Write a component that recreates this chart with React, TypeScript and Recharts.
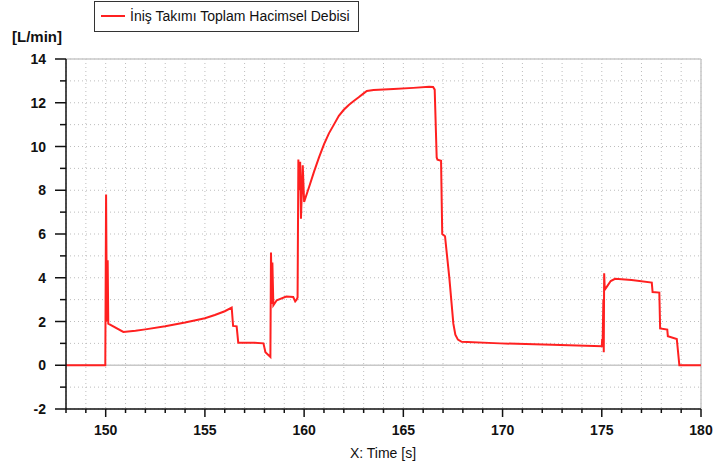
import React from "react";
import {
  LineChart,
  Line,
  XAxis,
  YAxis,
  CartesianGrid,
  ReferenceLine,
} from "recharts";

const seriesName = "İniş Takımı Toplam Hacimsel Debisi";

const time: number[] = [
  148, 149.98, 150.02, 150.06, 150.1, 150.13, 150.89, 151.5, 152, 153, 154, 155, 155.5, 156, 156.35,
  156.42, 156.6, 156.68, 157.5, 157.95, 158.05, 158.3, 158.33, 158.38, 158.4, 158.45, 158.62, 159.1,
  159.45, 159.55, 159.62, 159.67, 159.71, 159.76, 159.8, 159.84, 159.93, 160.0, 160.25, 160.5, 160.75,
  161.0, 161.25, 161.5, 161.75, 162.0, 162.25, 162.5, 162.75, 163.0, 163.16, 163.5, 164.5, 165.5,
  166.3, 166.5, 166.58, 166.68, 166.72, 166.9, 166.96, 167.1, 167.32, 167.52, 167.62, 167.75, 167.94,
  169.87, 172.5, 175.0, 175.02, 175.04, 175.08, 175.1, 175.12, 175.15, 175.25, 175.45, 175.67, 176.5,
  177.52, 177.56, 177.9, 177.94, 178.3, 178.33, 178.78, 178.91, 180,
];

const flow: number[] = [
  0, 0, 7.8, 2.0, 4.8, 1.9, 1.52, 1.58, 1.64, 1.78, 1.95, 2.15, 2.3, 2.47, 2.64,
  1.8, 1.78, 1.03, 1.03, 1.0, 0.6, 0.38, 5.15, 2.8, 4.7, 2.74, 2.97, 3.14,
  3.12, 2.92, 3.0, 3.1, 9.4, 8.0, 9.3, 6.7, 9.14, 7.47, 8.15, 8.85, 9.5,
  10.1, 10.6, 11.0, 11.4, 11.68, 11.9, 12.08, 12.25, 12.43, 12.54, 12.58, 12.63, 12.68,
  12.73, 12.72, 12.6, 9.5, 9.4, 9.35, 6.0, 5.9, 3.97, 1.9, 1.4, 1.17, 1.07,
  1.0, 0.94, 0.87, 1.2, 0.88, 3.0, 0.6, 4.2, 3.45, 3.58, 3.85, 3.95, 3.9,
  3.78, 3.35, 3.32, 1.68, 1.63, 1.33, 1.2, 0, 0,
];

const xTicks: number[] = [
  148, 149, 150, 151, 152, 153, 154, 155, 156, 157, 158, 159, 160, 161, 162, 163, 164,
  165, 166, 167, 168, 169, 170, 171, 172, 173, 174, 175, 176, 177, 178, 179, 180,
];
const yTicks: number[] = [-2, -1, 0, 1, 2, 3, 4, 5, 6, 7, 8, 9, 10, 11, 12, 13, 14];

const data = time.map((t, i) => ({ t, v: flow[i] }));

const FONT = "'Liberation Sans', Arial, sans-serif";
const RED = "#ff2020";

const YTick = (props: any) => {
  const { x, y, payload } = props;
  const v = payload.value;
  const major = v % 2 === 0;
  return (
    <g>
      <line x1={x - (major ? 11 : 6)} x2={x} y1={y} y2={y} stroke="#111" strokeWidth={1.5} />
      {major && (
        <text
          x={x - 20}
          y={y}
          dy={5}
          textAnchor="end"
          fontFamily={FONT}
          fontWeight="bold"
          fontSize={14}
          fill="#111"
        >
          {v}
        </text>
      )}
    </g>
  );
};

const XTick = (props: any) => {
  const { x, y, payload } = props;
  const v = payload.value;
  const major = v % 5 === 0;
  return (
    <g>
      <line x1={x} x2={x} y1={y} y2={y + (major ? 8 : 4)} stroke="#111" strokeWidth={1.5} />
      {major && (
        <text
          x={x}
          y={y + 26}
          textAnchor="middle"
          fontFamily={FONT}
          fontWeight="bold"
          fontSize={14}
          fill="#111"
        >
          {v}
        </text>
      )}
    </g>
  );
};

const LegendBox = () => (
  <div
    style={{
      position: "absolute",
      left: 94,
      top: 1,
      width: 263,
      height: 29,
      border: "1px solid #333",
      background: "#fff",
      fontFamily: FONT,
      fontSize: 14,
      color: "#111",
      boxSizing: "content-box",
    }}
  >
    <div
      style={{
        position: "absolute",
        left: 6,
        top: 13,
        width: 24,
        height: 2,
        background: RED,
      }}
    />
    <div style={{ position: "absolute", left: 35, top: 6, whiteSpace: "nowrap", lineHeight: "16px" }}>
      {seriesName}
    </div>
  </div>
);

export default function App() {
  return (
    <div style={{ position: "absolute", left: 0, top: 0, width: 714, height: 466, background: "#fff" }}>
      <LineChart
        width={714}
        height={466}
        data={data}
        margin={{ top: 59, right: 13, left: 16, bottom: 27 }}
      >
        <CartesianGrid stroke="#bdbdbd" strokeDasharray="1 3" />
        <XAxis
          dataKey="t"
          type="number"
          domain={[148, 180]}
          ticks={xTicks}
          interval={0}
          tickSize={0}
          tickMargin={0}
          tickLine={false}
          tick={<XTick />}
          axisLine={{ stroke: "#111", strokeWidth: 1.5 }}
          height={30}
          allowDataOverflow
        />
        <YAxis
          type="number"
          domain={[-2, 14]}
          ticks={yTicks}
          interval={0}
          tickSize={0}
          tickMargin={0}
          tickLine={false}
          tick={<YTick />}
          axisLine={{ stroke: "#111", strokeWidth: 1.5 }}
          width={50}
          allowDataOverflow
        />
        <ReferenceLine y={0} stroke="#c8c8c8" strokeWidth={1.5} />
        <ReferenceLine y={14} stroke="#c8c8c8" strokeWidth={1.5} />
        <ReferenceLine x={180} stroke="#c8c8c8" strokeWidth={1.5} />
        <Line
          dataKey="v"
          name={seriesName}
          type="linear"
          stroke={RED}
          strokeWidth={2}
          dot={false}
          activeDot={false}
          isAnimationActive={false}
        />
        <text
          x={12}
          y={42}
          fontFamily={FONT}
          fontWeight="bold"
          fontSize={15}
          fill="#111"
        >
          [L/min]
        </text>
        <text
          x={383}
          y={458}
          textAnchor="middle"
          fontFamily={FONT}
          fontSize={14}
          fill="#111"
        >
          X: Time [s]
        </text>
      </LineChart>
      <LegendBox />
    </div>
  );
}
